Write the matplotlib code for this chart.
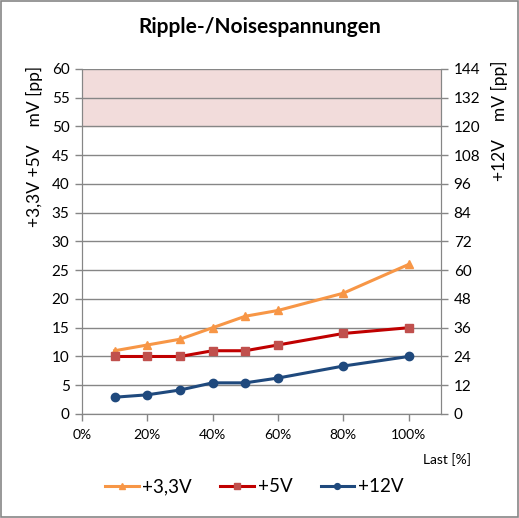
import matplotlib
matplotlib.use("Agg")
import matplotlib.pyplot as plt
from matplotlib.patches import Rectangle

plt.rcParams['font.family'] = ['Lato', 'DejaVu Sans']

# data
last = [10, 20, 30, 40, 50, 60, 80, 100]
v33 = [11, 12, 13, 15, 17, 18, 21, 26]
v5 = [10, 10, 10, 11, 11, 12, 14, 15]
v12 = [7, 8, 10, 13, 13, 15, 20, 24]
limit_band = (50, 60)
x_ticks = [0, 20, 40, 60, 80, 100]
left_ticks = list(range(0, 61, 5))
right_ticks = list(range(0, 145, 12))

grid_c = '#868686'

fig = plt.figure(figsize=(5.19, 5.18), dpi=100)
fig.patches.append(Rectangle((0.002, 0.002), 0.996, 0.996, transform=fig.transFigure,
                             fill=False, edgecolor=grid_c, linewidth=1.2))

ax = fig.add_axes([0.158, 0.2008, 0.692, 0.666])
ax2 = ax.twinx()

# limit band
ax.axhspan(limit_band[0], limit_band[1], color='#F2DCDB', zorder=0)

# horizontal grid lines
ax.set_yticks(left_ticks)
ax.set_ylim(0, 60)
ax.grid(axis='y', color=grid_c, linewidth=1.0, zorder=1)
ax.set_axisbelow(True)

ax.plot(last, v33, color='#F79646', linewidth=2.2, marker='^', markersize=6,
        markerfacecolor='#F79646', markeredgecolor='#F79646', label='+3,3V', zorder=5)
ax.plot(last, v5, color='#C00000', linewidth=2.2, marker='s', markersize=6,
        markerfacecolor='#C0504D', markeredgecolor='#C0504D', label='+5V', zorder=5)
l12, = ax2.plot(last, v12, color='#1F497D', linewidth=2.2, marker='o', markersize=6,
                markerfacecolor='#1F497D', markeredgecolor='#1F497D', label='+12V', zorder=5)

ax.set_xlim(0, 110)
ax.set_xticks(x_ticks)
ax.set_xticklabels(['{}%'.format(t) for t in x_ticks])
ax2.set_ylim(0, 144)
ax2.set_yticks(right_ticks)

for a in (ax, ax2):
    for s in a.spines.values():
        s.set_color(grid_c)
    a.spines['top'].set_visible(False)
    a.tick_params(axis='both', colors=grid_c, labelcolor='black', labelsize=11,
                  length=5, width=1.0)
ax.tick_params(axis='x', labelsize=10, pad=6)
ax.tick_params(axis='y', pad=4)
ax2.tick_params(axis='y', pad=4)

# titles and axis labels
fig.text(0.5, 0.947, 'Ripple-/Noisespannungen', ha='center', va='center',
         fontsize=15, fontweight='bold')
fig.text(0.066, 0.718, '+3,3V +5V    mV [pp]', rotation=90, ha='center', va='center',
         fontsize=12.5)
fig.text(0.963, 0.766, '+12V    mV [pp]', rotation=90, ha='center', va='center',
         fontsize=12.5)
fig.text(0.862, 0.112, 'Last [%]', ha='center', va='center', fontsize=10)

handles = ax.get_lines()[:2] + [l12]
fig.legend(handles, [h.get_label() for h in handles], loc='center',
           bbox_to_anchor=(0.49, 0.06), ncol=3, frameon=False, fontsize=13.5,
           handlelength=1.8, columnspacing=1.5, handletextpad=0.2, markerscale=0.7)

fig.savefig('out.png', dpi=100)
